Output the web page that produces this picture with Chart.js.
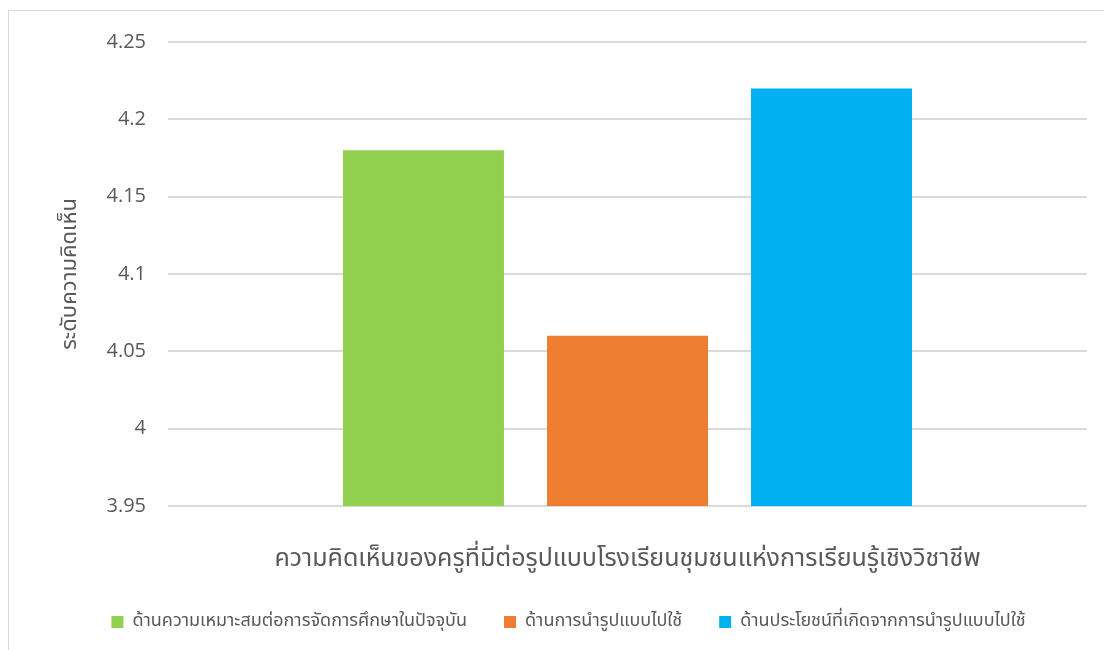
<!DOCTYPE html>
<html>
<head>
<meta charset="utf-8">
<script src="https://cdn.jsdelivr.net/npm/chart.js@4.4.1/dist/chart.umd.min.js"></script>
<style>
html,body{margin:0;padding:0;background:#fff;}
#wrap{position:relative;width:1104px;height:650px;}
#frame{position:absolute;left:8px;top:10px;width:1110px;height:660px;border:1px solid #d9d9d9;box-sizing:border-box;}
canvas{position:absolute;left:0;top:0;}
</style>
</head>
<body>
<div id="wrap"><div id="frame"></div><canvas id="c" width="1104" height="650"></canvas></div>
<script>
const categories = ['ความคิดเห็นของครูที่มีต่อรูปแบบโรงเรียนชุมชนแห่งการเรียนรู้เชิงวิชาชีพ'];
const seriesNames = [
  'ด้านความเหมาะสมต่อการจัดการศึกษาในปัจจุบัน',
  'ด้านการนำรูปแบบไปใช้',
  'ด้านประโยชน์ที่เกิดจากการนำรูปแบบไปใช้'
];
const suitability = [4.18];
const implementation = [4.06];
const benefits = [4.22];
const yTickLabels = ['3.95','4','4.05','4.1','4.15','4.2','4.25'];
const yAxisTitle = 'ระดับความคิดเห็น';

const colors = ['#92D050','#ED7D31','#00B0F0'];
const thaiFont = "'Noto Sans Thai','Tahoma','DejaVu Sans',sans-serif";
const PAD_BOTTOM = 9;
const PLOT_BOTTOM = 506;

new Chart(document.getElementById('c'), {
  type: 'bar',
  data: {
    labels: categories,
    datasets: [
      {label: seriesNames[0], data: suitability, backgroundColor: colors[0]},
      {label: seriesNames[1], data: implementation, backgroundColor: colors[1]},
      {label: seriesNames[2], data: benefits, backgroundColor: colors[2]}
    ]
  },
  options: {
    responsive: false,
    devicePixelRatio: 1,
    animation: false,
    categoryPercentage: 0.666,
    barPercentage: 0.789,
    layout: {padding: {left: 50, right: 17, top: 42, bottom: PAD_BOTTOM}},
    plugins: {
      tooltip: {enabled: false},
      legend: {
        position: 'bottom',
        labels: {
          boxWidth: 12, boxHeight: 12, padding: 37,
          color: '#595959',
          font: {family: thaiFont, size: 18}
        }
      }
    },
    scales: {
      x: {
        afterFit: s => {
          const lg = s.chart.legend ? s.chart.legend.height : 0;
          s.height = 650 - PAD_BOTTOM - lg - PLOT_BOTTOM;
        },
        grid: {display: false, drawTicks: false},
        border: {display: false},
        ticks: {color: '#595959', padding: 40, font: {family: thaiFont, size: 25}}
      },
      y: {
        min: 3.95, max: 4.25,
        afterFit: s => { s.width = 118; },
        grid: {color: '#d9d9d9', lineWidth: 2, drawTicks: false},
        border: {display: false},
        ticks: {
          stepSize: 0.05, padding: 22, color: '#595959',
          font: {family: "'Open Sans','DejaVu Sans',sans-serif", size: 20},
          callback: v => {
            const s = String(Number(v.toFixed(2)));
            return yTickLabels.includes(s) ? s : null;
          }
        },
        title: {
          display: true, text: yAxisTitle, color: '#595959',
          font: {family: thaiFont, size: 22}, padding: {top: 8, bottom: 0}
        }
      }
    }
  }
});
</script>
</body>
</html>
